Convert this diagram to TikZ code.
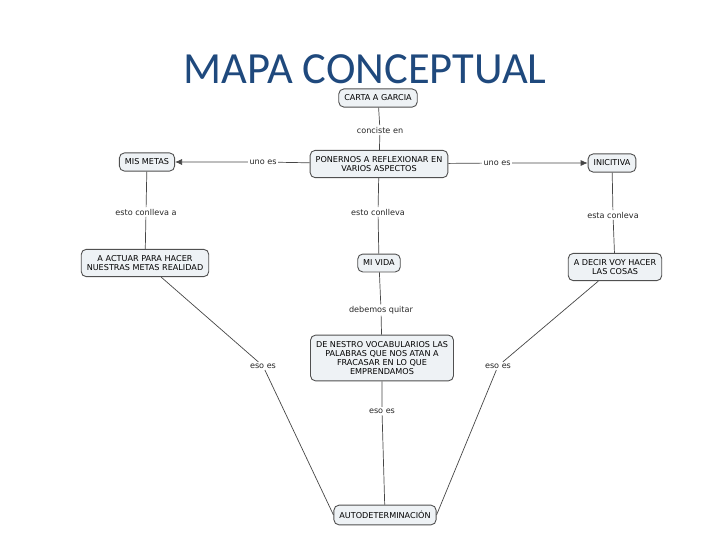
\documentclass[tikz,border=0pt]{standalone}
\usepackage{fontspec}
\usetikzlibrary{arrows.meta}
\setmainfont{DejaVu Sans}
\newfontfamily\titlefont{Carlito}
\definecolor{titleblue}{RGB}{31,73,125}
\definecolor{boxfill}{RGB}{238,242,245}
\definecolor{boxline}{RGB}{80,80,80}
\definecolor{lineg}{RGB}{70,70,70}
\begin{document}
\begin{tikzpicture}[x=1pt,y=-1pt,
  concept/.style={draw=boxline,fill=boxfill,rounded corners=5pt,line width=0.9pt,
    font=\fontsize{8.1}{9.2}\selectfont,align=center,inner xsep=5.5pt,inner ysep=6pt},
  lab/.style={font=\fontsize{8.1}{9.2}\selectfont,text=black!85,inner sep=1.5pt},
  conn/.style={draw=lineg,line width=0.7pt},
  arr/.style={conn,-{Latex[length=7pt,width=6pt]}}]
\useasboundingbox (0,0) rectangle (728,546);
\node[font=\titlefont\fontsize{44.5}{50}\selectfont,text=titleblue] (title) at (365,69) {MAPA CONCEPTUAL};
\node[concept] (carta) at (378,98) {CARTA A GARCIA};
\node[concept] (pon) at (379,164) {PONERNOS A REFLEXIONAR EN\\VARIOS ASPECTOS};
\node[concept] (mis) at (147,162) {MIS METAS};
\node[concept] (ini) at (612,163) {INICITIVA};
\node[concept] (act) at (145,263) {A ACTUAR PARA HACER\\NUESTRAS METAS REALIDAD};
\node[concept] (vida) at (379,263) {MI VIDA};
\node[concept] (dec) at (615,267) {A DECIR VOY HACER\\LAS COSAS};
\node[concept] (nes) at (382,358) {DE NESTRO VOCABULARIOS LAS\\PALABRAS QUE NOS ATAN A\\FRACASAR EN LO QUE\\EMPRENDAMOS};
\node[concept] (auto) at (385,515) {AUTODETERMINACIÓN};

\node[lab] (l1) at (380,130) {conciste en};
\node[lab] (l2) at (263,162) {uno es};
\node[lab] (l3) at (497,163) {uno es};
\node[lab] (l4) at (146,212) {esto conlleva a};
\node[lab] (l5) at (378,212) {esto conlleva};
\node[lab] (l6) at (613,215) {esta conleva};
\node[lab] (l7) at (381,310) {debemos quitar};
\node[lab] (l8) at (263,366) {eso es};
\node[lab] (l9) at (498,366) {eso es};
\node[lab] (l10) at (382,411) {eso es};

\draw[conn] (carta) -- (l1) -- (pon);
\draw[arr] (pon) -- (l2) -- (mis);
\draw[arr] (pon) -- (l3) -- (ini);
\draw[conn] (mis) -- (l4) -- (act);
\draw[conn] (pon) -- (l5) -- (vida);
\draw[conn] (ini) -- (l6) -- (dec);
\draw[conn] (vida) -- (l7) -- (nes);
\draw[conn] (act) -- (l8) -- (auto.west);
\draw[conn] (dec) -- (l9) -- (auto.east);
\draw[conn] (nes) -- (l10) -- (auto);
\end{tikzpicture}
\end{document}
